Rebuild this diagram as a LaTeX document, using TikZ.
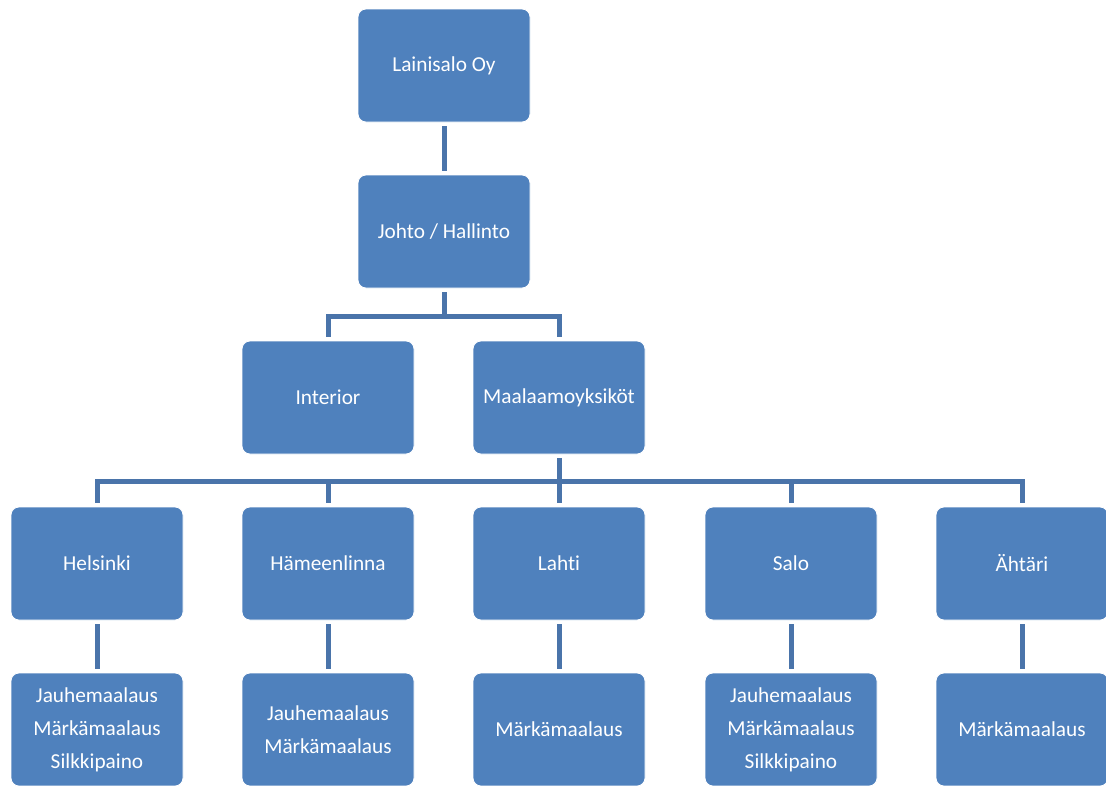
\documentclass[tikz,border=0pt]{standalone}
\usepackage{fontspec}
\setmainfont{Carlito}[Ligatures={NoCommon}]
\usepackage{xcolor}
\usepackage{tikz}
\usetikzlibrary{positioning}
\pgfdeclarelayer{nodelayer}
\pgfdeclarelayer{edgelayer}
\pgfsetlayers{nodelayer,edgelayer,main}

\definecolor{boxblue}{HTML}{4F81BD}
\definecolor{lineblue}{HTML}{4A74AA}

\tikzset{
  unit/.style={rectangle, rounded corners=8pt, fill=boxblue, draw=white,
    line width=0.8pt, minimum width=172pt, minimum height=113pt,
    text=white, align=center, inner sep=0pt,
    font=\fontsize{21.3}{33}\selectfont},
  conn/.style={draw=lineblue, line width=5pt, shorten <=4pt, shorten >=4pt}
}

\begin{document}
\begin{tikzpicture}[x=1pt, y=-1pt]
  \useasboundingbox (0,0) rectangle (1106,785);
  \begin{pgfonlayer}{nodelayer}
    \node [unit] (top) at (444, 65.5) {Lainisalo Oy};
    \node [unit] (johto) at (444, 231.5) {Johto / Hallinto};
    \node [unit] (interior) at (328, 397.5) {Interior};
    \node [unit] (maal) at (559, 397.5) {Maalaamoyksiköt};
    \node [unit] (hki) at (97, 563.5) {Helsinki};
    \node [unit] (hml) at (328, 563.5) {Hämeenlinna};
    \node [unit] (lahti) at (559, 563.5) {Lahti};
    \node [unit] (salo) at (791, 563.5) {Salo};
    \node [unit] (ahtari) at (1022, 563.5) {Ähtäri};
    \node [unit] (hki2) at (97, 729.5) {Jauhemaalaus\\Märkämaalaus\\Silkkipaino};
    \node [unit] (hml2) at (328, 729.5) {Jauhemaalaus\\Märkämaalaus};
    \node [unit] (lahti2) at (559, 729.5) {Märkämaalaus};
    \node [unit] (salo2) at (791, 729.5) {Jauhemaalaus\\Märkämaalaus\\Silkkipaino};
    \node [unit] (ahtari2) at (1022, 729.5) {Märkämaalaus};
    \coordinate (bar1) at (444, 316);
    \coordinate (bar2) at (559, 481);
  \end{pgfonlayer}
  \begin{pgfonlayer}{edgelayer}
    \draw [conn] (top) -- (johto);
    \draw [conn] (johto.south) -- (bar1) -| (interior.north);
    \draw [conn] (johto.south) -- (bar1) -| (maal.north);
    \foreach \n in {hki, hml, lahti, salo, ahtari} {
      \draw [conn] (maal.south) -- (bar2) -| (\n.north);
      \draw [conn] (\n) -- (\n2);
    }
  \end{pgfonlayer}
\end{tikzpicture}
\end{document}
